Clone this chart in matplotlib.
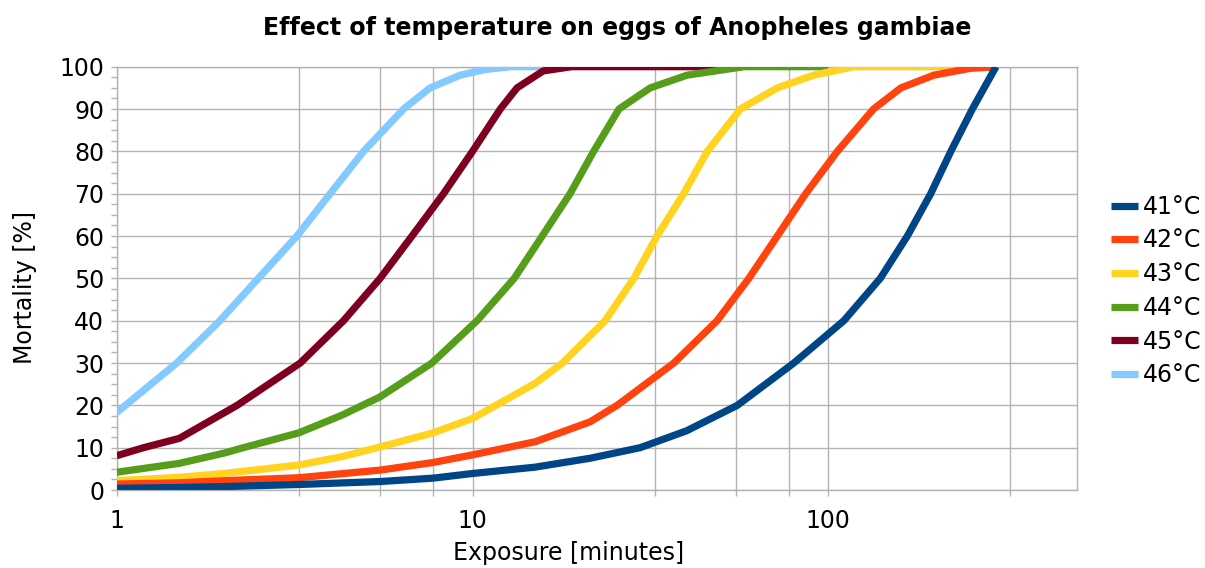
import matplotlib
matplotlib.use("Agg")
import matplotlib.pyplot as plt
from matplotlib.ticker import FixedLocator, NullFormatter, FixedFormatter, MultipleLocator

plt.rcParams['font.family'] = ['DejaVu Sans']

title = "Effect of temperature on eggs of Anopheles gambiae"
xlabel = "Exposure [minutes]"
ylabel = "Mortality [%]"

labels = ["41°C", "42°C", "43°C", "44°C", "45°C", "46°C"]
colors = ["#004586", "#ff420e", "#ffd320", "#579d1c", "#7e0021", "#83caff"]

x41 = [1, 1.5, 2, 3.25, 5.5, 7.75, 10, 15, 21.4, 29.6, 40, 55.5, 80, 110.6, 140, 166.8, 194, 221, 254, 296]
y41 = [0.4, 0.6, 0.8, 1.3, 2.0, 2.8, 3.9, 5.4, 7.5, 10, 14, 20, 30, 40, 50, 60, 70, 80, 90, 100]

x42 = [1, 1.5, 2, 3.25, 5.5, 7.75, 10, 15, 21.4, 25.5, 36.8, 48.7, 59.8, 71.9, 86.4, 106, 134, 160, 198, 250, 299]
y42 = [1.4, 1.7, 2.2, 2.9, 4.7, 6.5, 8.3, 11.4, 16.1, 20, 30, 40, 50, 60, 70, 80, 90, 95, 98, 99.6, 100]

x43 = [1, 1.5, 2, 3.25, 4.3, 5.4, 7.75, 10, 15, 17.9, 23.6, 28.4, 33.0, 39.2, 45.7, 56.6, 71.9, 91, 118, 300]
y43 = [2.2, 3.0, 3.9, 5.9, 7.9, 10, 13.5, 16.9, 25.2, 30, 40, 50, 60, 70, 80, 90, 95, 98, 100, 100]

x44 = [1, 1.5, 2, 2.27, 3.25, 4.3, 5.5, 7.69, 10.3, 13.1, 15.7, 18.8, 21.9, 25.8, 31.6, 40.1, 58, 100]
y44 = [4.2, 6.3, 8.7, 10, 13.5, 17.7, 22.0, 30, 40, 50, 60, 70, 80, 90, 95, 98, 100, 100]

x45 = [1, 1.19, 1.5, 2.18, 3.28, 4.34, 5.5, 6.76, 8.29, 10, 11.97, 13.34, 15.8, 19, 55]
y45 = [8.1, 10, 12.2, 20, 30, 40, 50, 60, 70, 80, 90, 95, 99, 100, 100]

x46 = [1, 1.475, 1.95, 2.5, 3.21, 3.98, 4.94, 6.4, 7.6, 9.24, 10.8, 12.8, 16.5]
y46 = [18.3, 30, 40, 50, 60, 70, 80, 90, 95, 98, 99.3, 100, 100]

series_x = [x41, x42, x43, x44, x45, x46]
series_y = [y41, y42, y43, y44, y45, y46]

x_major = [1, 10, 100]
x_minor = [3.25, 5.5, 7.75, 32.5, 55, 77.5, 325]
x_ticklabels = ["1", "10", "100"]

W, H = 1205, 568
fig = plt.figure(figsize=(W / 100, H / 100), dpi=100)
ax = fig.add_axes([116.7 / W, 1 - 490 / H, (1077 - 116.7) / W, (490 - 66.7) / H])

grid_c = "#b3b3b3"
n = len(series_x)
for i, (xs, ys) in enumerate(zip(series_x, series_y)):
    ax.plot(xs, ys, color=colors[i], lw=5.2, label=labels[i],
            solid_capstyle="butt", solid_joinstyle="round", zorder=10 + n - i)

ax.set_xscale("log")
ax.set_xlim(1, 500)
ax.set_ylim(0, 100)

ax.xaxis.set_major_locator(FixedLocator(x_major))
ax.xaxis.set_major_formatter(FixedFormatter(x_ticklabels))
ax.xaxis.set_minor_locator(FixedLocator(x_minor))
ax.xaxis.set_minor_formatter(NullFormatter())
ax.yaxis.set_major_locator(MultipleLocator(10))
ax.yaxis.set_minor_locator(MultipleLocator(2.5))

ax.grid(True, which="major", color=grid_c, lw=1.0)
ax.grid(True, which="minor", axis="x", color=grid_c, lw=1.0)
ax.set_axisbelow(True)

for s in ax.spines.values():
    s.set_color(grid_c)
    s.set_linewidth(1.0)

ax.tick_params(axis="both", which="both", direction="out", color=grid_c, width=1.0, length=4)
ax.tick_params(axis="y", which="major", labelsize=17, pad=5)
ax.tick_params(axis="x", which="major", labelsize=17, pad=10)

ax.set_xlabel(xlabel, fontsize=17, va="center", ha="center")
ax.xaxis.set_label_coords((569 - 116.7) / 960.3, -(553 - 490) / 423.3)
ax.set_ylabel(ylabel, fontsize=17, va="center", ha="center")
ax.yaxis.set_label_coords((25 - 116.7) / 960.3, (490 - 288) / 423.3)
fig.text(617 / W, 1 - 28 / H, title, fontsize=17, fontweight="bold", ha="center", va="center")

leg = ax.legend(loc="center left", bbox_to_anchor=(1111 / W, 1 - 291 / H),
                bbox_transform=fig.transFigure, frameon=False, fontsize=17,
                handlelength=1.15, handletextpad=0.2, labelspacing=0.41,
                borderpad=0, borderaxespad=0)
for h in leg.get_lines():
    h.set_linewidth(5.2)

fig.savefig("out.png", dpi=100)
